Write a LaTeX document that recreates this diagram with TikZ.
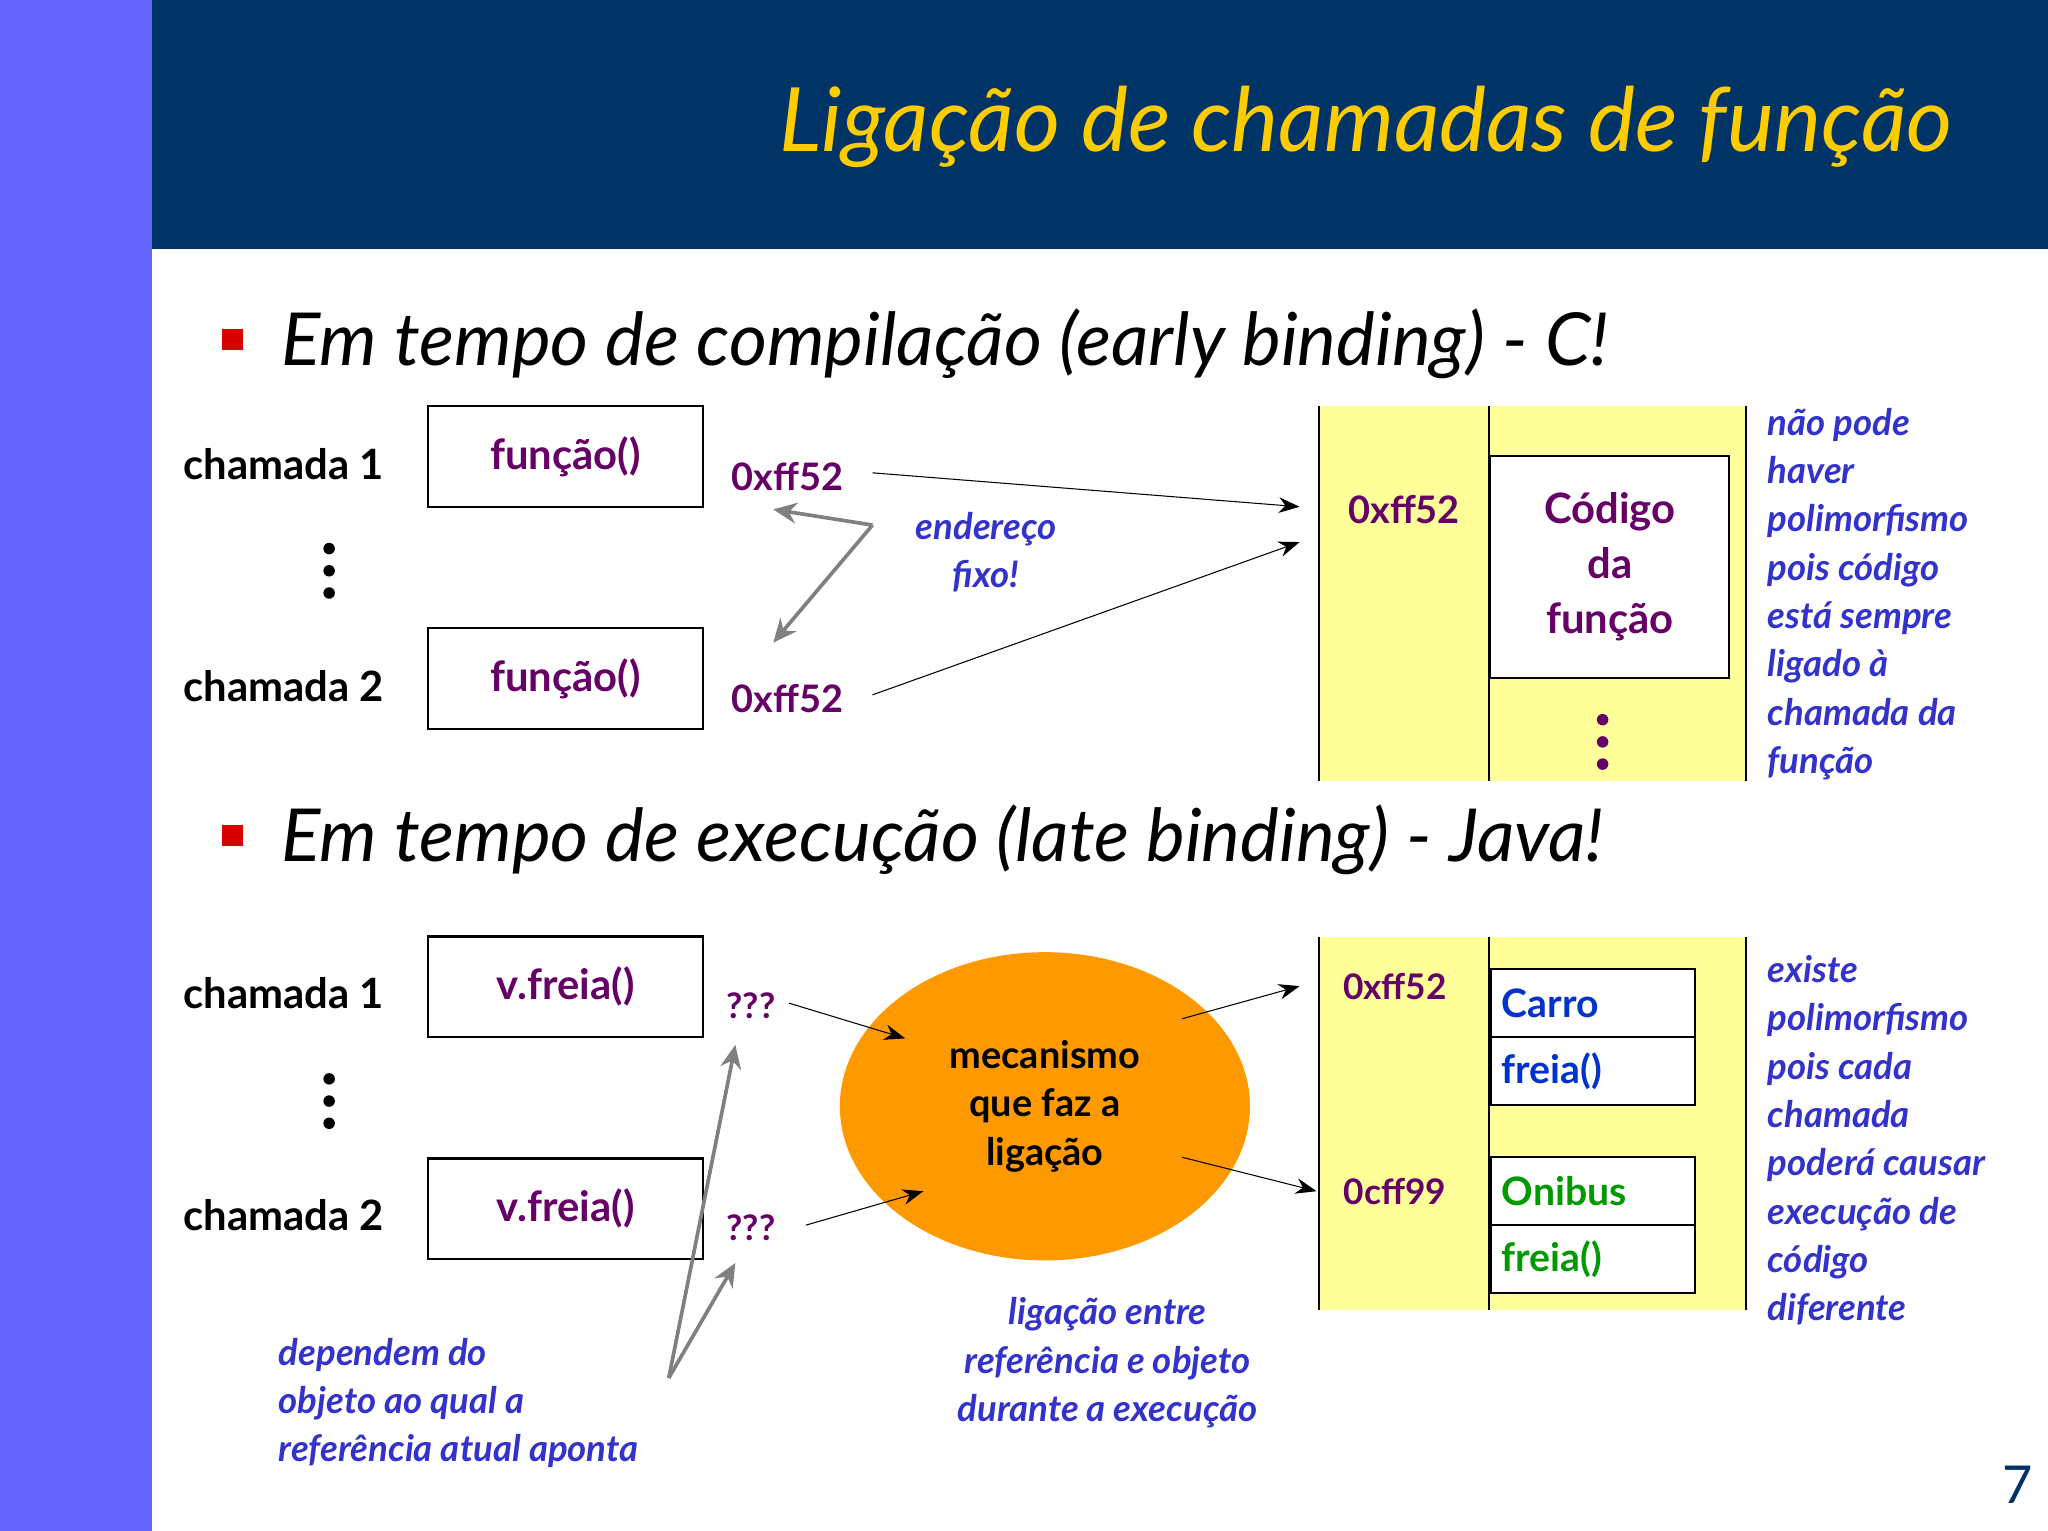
\documentclass[tikz,border=0pt]{standalone}
\usepackage{fontspec}
\setmainfont{Lato}
\usetikzlibrary{arrows.meta,shapes.geometric}
\definecolor{hdr}{HTML}{003366}
\definecolor{side}{HTML}{6666FF}
\definecolor{ttl}{HTML}{FFCC00}
\definecolor{purp}{HTML}{660066}
\definecolor{blu}{HTML}{3333CC}
\definecolor{pan}{HTML}{FFFF99}
\definecolor{org}{HTML}{FF9900}
\definecolor{grn}{HTML}{009900}
\definecolor{cblu}{HTML}{0033CC}
\tikzset{
 lbl/.style={font=\fontsize{16}{19}\selectfont\bfseries,inner sep=0pt},
 fbox/.style={draw,thick,minimum width=105pt,minimum height=38.5pt,font=\fontsize{16}{19}\selectfont\bfseries,text=purp},
 note/.style={font=\fontsize{14}{18.5}\selectfont\bfseries\itshape,text=blu,inner sep=0pt},
 addr/.style={font=\fontsize{13.5}{16}\selectfont\bfseries,text=purp,inner sep=0pt},
 blk/.style={-{Stealth[length=8pt,width=6pt]},thin},
 gry/.style={-{Stealth[length=9pt,width=8pt]},line width=1.4pt,draw=gray},
 bul/.style={font=\fontsize{28}{32}\selectfont\itshape,inner sep=0pt,anchor=west},
 cell/.style={draw,thick,fill=white,minimum width=78pt,minimum height=26pt,anchor=north west,inner sep=4pt,text width=70pt,align=left,font=\fontsize{15}{18}\selectfont\bfseries}
}
\begin{document}
\begin{tikzpicture}[x=0.5pt,y=-0.5pt]
\useasboundingbox (0,0) rectangle (1568,1172);
\fill[white] (0,0) rectangle (1568,1172);
\fill[side] (0,0) rectangle (116,1172);
\fill[hdr] (116,0) rectangle (1568,191);
\node[anchor=east,text=ttl,font=\fontsize{34}{40}\selectfont\itshape,inner sep=0pt] (title) at (1495,97) {Ligação de chamadas de função};
% section 1
\fill[red!85!black] (170,252) rectangle (186,268);
\node[bul] (b1) at (215,263) {Em tempo de compilação (early binding) - C!};
\node[lbl,anchor=west] (c1) at (140,355) {chamada 1};
\node[lbl,anchor=west] (c2) at (140,525) {chamada 2};
\node[fbox] (f1) at (433,349.5) {função()};
\node[fbox] (f2) at (433,519.5) {função()};
\foreach \y in {420,437,454} \fill (252,\y) circle (2.2pt);
\node[addr,font=\fontsize{14.5}{17}\selectfont\bfseries] (a1) at (603,365) {0xff52};
\node[addr,font=\fontsize{14.5}{17}\selectfont\bfseries] (a2) at (603,535) {0xff52};
\coordinate (g1) at (668,402);
\node[note,align=center] (fixo) at (755,423) {endereço\\fixo!};
\fill[pan] (1010,311) rectangle (1337,598);
\draw[thick] (1010,311)--(1010,598) (1140,311)--(1140,598) (1337,311)--(1337,598);
\node[draw,thick,fill=white,minimum width=91.5pt,minimum height=85pt,font=\fontsize{16}{21}\selectfont\bfseries,text=purp,align=center] (cod) at (1232.5,434) {Código\\da\\função};
\node[addr,font=\fontsize{14.5}{17}\selectfont\bfseries] (pa) at (1075,390) {0xff52};
\foreach \y in {551,568,585} \fill[purp] (1227,\y) circle (2.2pt);
\coordinate (t1) at (995,388);
\coordinate (t2) at (995,415);
\draw[blk] (668,362) -- (t1);
\draw[blk] (668,532) -- (t2);
\draw[gry] (g1) -- (592,390);
\draw[gry] (g1) -- (592,492);
\node[note,anchor=north west,align=left] (n1) at (1353,312) {não pode\\haver\\polimorfismo\\pois código\\está sempre\\ligado à\\chamada da\\função};
% section 2
\fill[red!85!black] (170,632) rectangle (186,648);
\node[bul] (b2) at (215,643) {Em tempo de execução (late binding) - Java!};
\node[lbl,anchor=west] (c3) at (140,760) {chamada 1};
\node[lbl,anchor=west] (c4) at (140,930) {chamada 2};
\node[fbox] (v1) at (433,755.5) {v.freia()};
\node[fbox] (v2) at (433,925.5) {v.freia()};
\foreach \y in {826,843,860} \fill (252,\y) circle (2.2pt);
\node[addr] (q1) at (575,770) {???};
\node[addr] (q2) at (575,940) {???};
\node[ellipse,fill=org,minimum width=157pt,minimum height=118pt,font=\fontsize{14.5}{18.5}\selectfont\bfseries,align=center] (mec) at (800,847) {mecanismo\\que faz a\\ligação};
\fill[pan] (1010,717) rectangle (1337,1003);
\draw[thick] (1010,717)--(1010,1003) (1140,717)--(1140,1003) (1337,717)--(1337,1003);
\node[cell,text=cblu] (carro) at (1141,741) {Carro};
\node[cell,text=cblu] (fr1) at (1141,793) {freia()};
\node[cell,text=grn] (onib) at (1141,885) {Onibus};
\node[cell,text=grn] (fr2) at (1141,937) {freia()};
\node[addr] (pb) at (1068,755) {0xff52};
\node[addr] (pc) at (1068,912) {0cff99};
\draw[blk] (604,768) -- (693,795);
\draw[blk] (617,938) -- (707,912);
\draw[blk] (905,780) -- (995,755);
\draw[blk] (905,886) -- (1008,912);
\coordinate (g2) at (512,1055);
\draw[gry] (g2) -- (563,800);
\draw[gry] (g2) -- (563,967);
\node[note,anchor=north west,align=left] (n2) at (213,1024) {dependem do\\objeto ao qual a\\referência atual aponta};
\node[note,anchor=north,align=center] (n3) at (848,993) {ligação entre\\referência e objeto\\durante a execução};
\node[note,anchor=north west,align=left] (n4) at (1353,731) {existe\\polimorfismo\\pois cada\\chamada\\poderá causar\\execução de\\código\\diferente};
\node[font=\fontsize{20}{24}\selectfont,text=hdr] (pg) at (1545,1137) {7};
\end{tikzpicture}
\end{document}
